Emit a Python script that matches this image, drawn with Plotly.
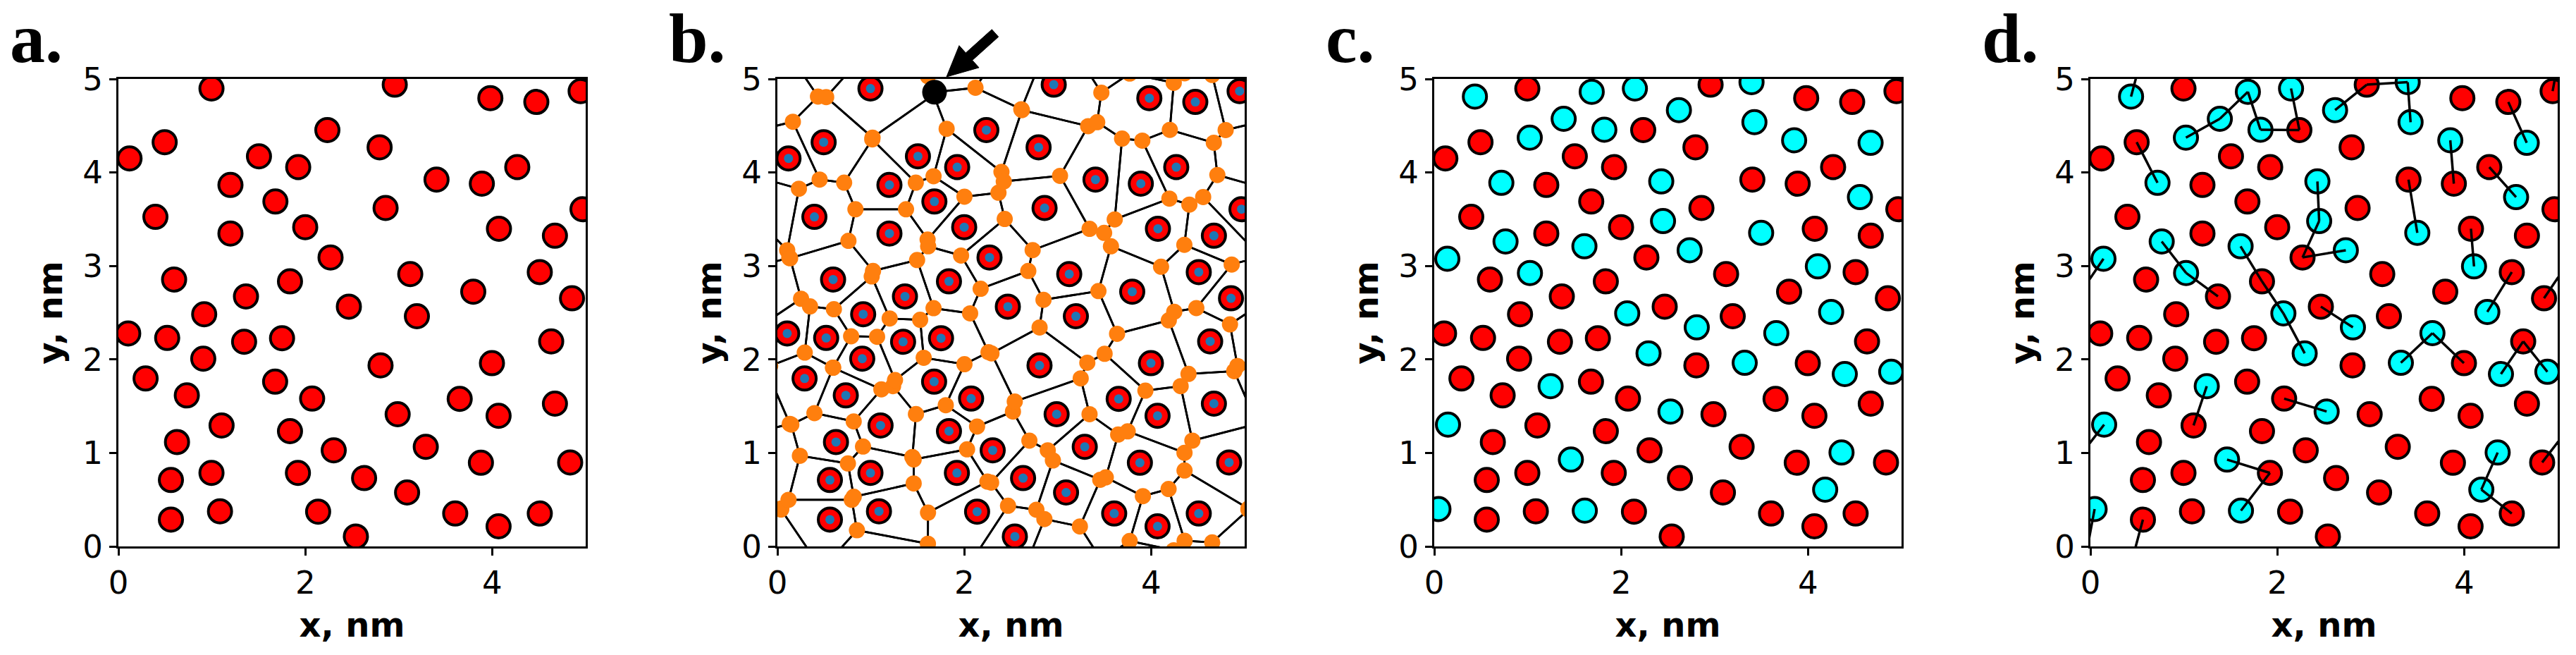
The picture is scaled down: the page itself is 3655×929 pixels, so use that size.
import numpy as np
import plotly.graph_objects as go

# ---- data (nm) ----
red_x = [0.996, 2.957, 3.980, 4.472, 4.946, 2.236, 0.495, 0.119, 2.795, 1.504,
         1.924, 3.404, 1.199, 3.889, 4.268, 1.680, 2.859, 4.966, 0.396, 1.999,
         4.072, 1.199, 4.671, 2.270, 3.123, 4.509, 0.596, 1.836, 3.797, 1.365,
         4.854, 2.466, 0.918, 3.194, 0.105, 0.522, 1.345, 1.751, 4.631, 0.908,
         2.805, 3.997, 0.291, 1.677, 0.732, 2.073, 3.652, 4.671, 2.988, 4.068,
         1.104, 1.836, 0.627, 2.304, 3.289, 3.879, 4.834, 0.562, 0.996, 1.921,
         2.629, 3.089, 0.562, 1.087, 2.137, 3.604, 4.509, 4.068, 2.541]
red_y = [4.898, 4.939, 4.795, 4.754, 4.870, 4.454, 4.324, 4.150, 4.269, 4.173,
         4.057, 3.924, 3.866, 3.880, 4.057, 3.689, 3.620, 3.607, 3.525, 3.415,
         3.398, 3.347, 3.323, 3.091, 2.913, 2.934, 2.855, 2.835, 2.725, 2.674,
         2.654, 2.565, 2.483, 2.462, 2.278, 2.230, 2.189, 2.227, 2.193, 2.008,
         1.936, 1.960, 1.796, 1.762, 1.615, 1.581, 1.578, 1.527, 1.414, 1.397,
         1.294, 1.233, 1.117, 1.028, 1.066, 0.895, 0.898, 0.710, 0.786, 0.786,
         0.731, 0.577, 0.287, 0.376, 0.372, 0.352, 0.352, 0.215, 0.106]

cyan_x = [0.435, 1.685, 2.147, 3.395, 1.385, 1.022, 1.820, 2.618, 3.426, 3.851,
          4.669, 0.718, 2.429, 4.555, 2.448, 3.498, 0.763, 1.607, 0.140, 2.733,
          4.105, 1.024, 2.065, 4.247, 2.809, 3.660, 2.293, 3.322, 4.393, 4.890,
          1.245, 2.528, 0.147, 1.462, 4.358, 4.183, 0.045, 1.611]
cyan_y = [4.812, 4.863, 4.898, 4.966, 4.574, 4.372, 4.457, 4.667, 4.538, 4.344,
          4.317, 3.889, 3.904, 3.736, 3.480, 3.354, 3.262, 3.210, 3.077, 3.168,
          2.995, 2.925, 2.493, 2.508, 2.343, 2.281, 2.065, 1.964, 1.844, 1.868,
          1.714, 1.443, 1.303, 0.929, 1.004, 0.608, 0.400, 0.383]

# bonds in panel d ("r" = red atom index, "c" = cyan atom index), periodic box
links = [("c0", "r62"), ("c5", "c4"), ("c4", "c1"), ("c1", "c6"), ("c6", "r5"),
         ("r5", "c2"), ("c7", "r1"), ("r1", "c3"), ("c3", "c8"), ("r6", "c11"),
         ("c9", "r13"), ("r3", "c10"), ("r14", "c13"), ("r4", "c36"),
         ("c12", "c14"), ("c14", "r23"), ("r23", "c19"), ("r11", "c15"),
         ("r20", "c20"), ("c16", "c21"), ("c21", "r29"), ("c17", "r27"),
         ("r27", "c22"), ("c22", "c26"), ("c18", "r30"), ("r25", "c23"),
         ("r31", "c24"), ("c27", "c25"), ("c25", "r41"), ("c28", "r38"),
         ("r38", "c29"), ("c30", "r50"), ("r45", "c31"), ("c32", "r56"),
         ("c33", "r59"), ("r59", "c37"), ("c34", "c35"), ("c35", "r66")]

box = 5.0
marked_vertex = (1.67, 4.87)   # the vertex pointed at in panel b
x_ticks = [0, 2, 4]
y_ticks = [0, 1, 2, 3, 4, 5]
panel_names = ["a.", "b.", "c.", "d."]

W, H = 3655, 929
panel_left = [168, 1103, 2035, 2966]
panel_size = 663
panel_top = 112

RED, CYAN, ORANGE, BLUE = "#ff0000", "#00ffff", "#ff7f0e", "#1f77b4"
FONT = "DejaVu Sans"


# ---- periodic Voronoi by half-plane clipping ----
def clip(poly, n, c):
    out = []
    k = len(poly)
    for i in range(k):
        P, Q = poly[i], poly[(i + 1) % k]
        dp, dq = n @ P - c, n @ Q - c
        if dp <= 0:
            out.append(P)
        if dp * dq < 0:
            t = dp / (dp - dq)
            out.append(P + t * (Q - P))
    return out


pts = np.column_stack([red_x, red_y])
shifts = [np.array([i * box, j * box]) for i in (-1, 0, 1) for j in (-1, 0, 1)]
images = np.vstack([pts + s for s in shifts])

cells = []
for p in pts:
    poly = [p + np.array(v) for v in [(-box, -box), (box, -box), (box, box), (-box, box)]]
    d = np.linalg.norm(images - p, axis=1)
    for q in images[(d > 1e-9) & (d < 3.0)]:
        n = q - p
        poly = clip(poly, n, n @ (p + q) / 2)
    cells.append(np.array(poly))

edge_x, edge_y, verts = [], [], []
for cell in cells:
    for s in shifts:
        c = cell + s
        if c[:, 0].max() < -0.2 or c[:, 0].min() > box + 0.2:
            continue
        if c[:, 1].max() < -0.2 or c[:, 1].min() > box + 0.2:
            continue
        edge_x += list(c[:, 0]) + [c[0, 0], None]
        edge_y += list(c[:, 1]) + [c[0, 1], None]
        verts.extend(c.tolist())
verts = np.unique(np.round(np.array(verts), 5), axis=0)
inside = (verts[:, 0] > -0.3) & (verts[:, 0] < box + 0.3) & (verts[:, 1] > -0.3) & (verts[:, 1] < box + 0.3)
verts = verts[inside]
mark = verts[np.argmin(np.linalg.norm(verts - np.array(marked_vertex), axis=1))]


# ---- bonds with minimum image ----
def atom(tag):
    i = int(tag[1:])
    if tag[0] == "r":
        return np.array([red_x[i], red_y[i]])
    return np.array([cyan_x[i], cyan_y[i]])


bond_x, bond_y = [], []
for a_tag, b_tag in links:
    a, b = atom(a_tag), atom(b_tag)
    d = b - a
    d -= box * np.round(d / box)
    bond_x += [a[0], a[0] + d[0], None]
    bond_y += [a[1], a[1] + d[1], None]
    if np.abs(a + d - b).max() > 1e-9:
        bond_x += [b[0] - d[0], b[0], None]
        bond_y += [b[1] - d[1], b[1], None]

fig = go.Figure()


def atoms(x, y, color, k, size=33):
    return go.Scatter(x=x, y=y, mode="markers", xaxis=f"x{k}", yaxis=f"y{k}",
                      marker=dict(size=size, color=color, line=dict(color="black", width=4)),
                      showlegend=False, hoverinfo="skip")


# a
fig.add_trace(atoms(red_x, red_y, RED, 1))
# b
fig.add_trace(go.Scatter(x=edge_x, y=edge_y, mode="lines", xaxis="x2", yaxis="y2",
                         line=dict(color="black", width=2.8), showlegend=False, hoverinfo="skip"))
fig.add_trace(go.Scatter(x=verts[:, 0], y=verts[:, 1], mode="markers", xaxis="x2", yaxis="y2",
                         marker=dict(size=23, color=ORANGE), showlegend=False, hoverinfo="skip"))
fig.add_trace(go.Scatter(x=[mark[0]], y=[mark[1]], mode="markers", xaxis="x2", yaxis="y2",
                         marker=dict(size=35, color="black"), showlegend=False, hoverinfo="skip"))
fig.add_trace(atoms(red_x, red_y, RED, 2))
fig.add_trace(go.Scatter(x=red_x, y=red_y, mode="markers", xaxis="x2", yaxis="y2",
                         marker=dict(size=13, color=BLUE), showlegend=False, hoverinfo="skip"))
# c
fig.add_trace(atoms(red_x, red_y, RED, 3))
fig.add_trace(atoms(cyan_x, cyan_y, CYAN, 3))
# d
fig.add_trace(atoms(red_x, red_y, RED, 4))
fig.add_trace(atoms(cyan_x, cyan_y, CYAN, 4))
fig.add_trace(go.Scatter(x=bond_x, y=bond_y, mode="lines", xaxis="x4", yaxis="y4",
                         line=dict(color="black", width=3.5), showlegend=False, hoverinfo="skip"))

axis_common = dict(range=[0, box], showgrid=False, zeroline=False, showline=True,
                   linecolor="black", linewidth=3, mirror=True, ticks="outside",
                   ticklen=10, tickwidth=3, tickcolor="black", automargin=False,
                   tickfont=dict(family=FONT, size=45, color="black"))
title_font = dict(family=FONT, size=48, color="black", weight="bold")

layout = dict(width=W, height=H, autosize=False, margin=dict(l=0, r=0, t=0, b=0),
              paper_bgcolor="white", plot_bgcolor="white", showlegend=False)
y0 = 1 - (panel_top + panel_size) / H
y1 = 1 - panel_top / H
annotations = []
for k, left in enumerate(panel_left, start=1):
    suffix = "" if k == 1 else str(k)
    layout[f"xaxis{suffix}"] = dict(axis_common, domain=[left / W, (left + panel_size) / W],
                                    tickvals=x_ticks, anchor=f"y{k}",
                                    title=dict(text="x, nm", font=title_font, standoff=18))
    layout[f"yaxis{suffix}"] = dict(axis_common, domain=[y0, y1], tickvals=y_ticks,
                                    anchor=f"x{k}",
                                    title=dict(text="y, nm", font=title_font, standoff=14))
    annotations.append(dict(text=f"<b>{panel_names[k - 1]}</b>", xref="paper", yref="paper",
                            x=(left - 156) / W, y=1 - 112 / H, xanchor="left", yanchor="bottom",
                            showarrow=False,
                            font=dict(family="Liberation Serif", size=100, color="black")))
layout["annotations"] = annotations


# arrow in panel b (pixel geometry -> paper)
def px(x, y):
    return f"{x / W:.5f},{1 - y / H:.5f}"


tip = np.array([1343.0, 109.0])
tail = np.array([1412.0, 47.0])
u = (tip - tail) / np.linalg.norm(tip - tail)
nrm = np.array([-u[1], u[0]])
base = tip - 43 * u
poly = [tip, base + 21 * nrm, base + 7 * nrm, tail + 7 * nrm, tail - 7 * nrm,
        base - 7 * nrm, base - 21 * nrm]
path = "M " + " L ".join(px(*p) for p in poly) + " Z"
layout["shapes"] = [dict(type="path", path=path, xref="paper", yref="paper",
                         fillcolor="black", line=dict(color="black", width=1))]

fig.update_layout(**layout)
fig.write_html("out.html", config={"displayModeBar": False},
               post_script="document.body.style.margin='0';")
